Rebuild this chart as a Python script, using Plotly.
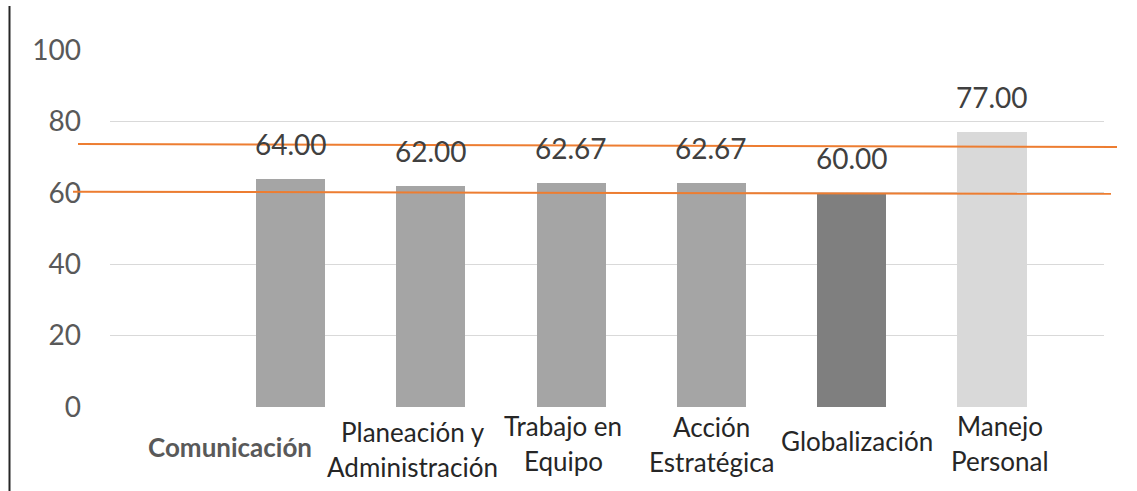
import plotly.graph_objects as go

# Competency scores
categories = ["Comunicación", "Planeación y Administración", "Trabajo en Equipo",
              "Acción Estratégica", "Globalización", "Manejo Personal"]
values = [64.00, 62.00, 62.67, 62.67, 60.00, 77.00]
bar_colors = ["#a5a5a5", "#a5a5a5", "#a5a5a5", "#a5a5a5", "#7f7f7f", "#d9d9d9"]
y_ticks = [0, 20, 40, 60, 80, 100]

# Two reference levels (slightly tilted lines): (left end, right end)
reference_lines = [(73.7, 72.8), (60.3, 59.7)]

# Axis label text, split into lines
label_lines = [["Comunicación"], ["Planeación y", "Administración"], ["Trabajo en", "Equipo"],
               ["Acción", "Estratégica"], ["Globalización"], ["Manejo", "Personal"]]

# --- layout geometry (pixels) ---
W, H = 1137, 491
ML, MR, MT, MB = 110, 33, 50, 84
PW, PH = W - ML - MR, H - MT - MB
UNIT = 140.3                     # px per category
FIRST_CENTER = 290.5             # px, centre of first bar
x_lo = 1 - (FIRST_CENTER - ML) / UNIT
x_hi = x_lo + PW / UNIT

def px_to_paper_x(px):
    return (px - ML) / PW

def px_to_paper_y(py):
    return (H - MB - py) / PH

x_pos = list(range(1, len(categories) + 1))

fig = go.Figure()
fig.add_trace(go.Bar(
    x=x_pos, y=values, width=0.492,
    marker=dict(color=bar_colors, line=dict(width=0)),
    hoverinfo="skip", showlegend=False,
))

FONT = "Lato"
annotations = []
# value labels above bars
for x, v in zip(x_pos, values):
    annotations.append(dict(
        x=x, y=v, xref="x", yref="y", text=f"{v:.2f}", showarrow=False,
        yanchor="middle", yshift=35,
        font=dict(family=FONT, size=28, color="#404040"),
    ))

# category labels
label_dx = [-61, -18, -8, 0, 5, 8]          # horizontal offset from bar centre
label_top = [447, 432, 426, 427, 441, 426]  # first-line centre (px)
LINE_GAP = 35
for i, (x, lines) in enumerate(zip(x_pos, label_lines)):
    for j, line in enumerate(lines):
        first = i == 0
        annotations.append(dict(
            x=x, y=px_to_paper_y(label_top[i] + j * LINE_GAP), xref="x", yref="paper",
            text=f"<b>{line}</b>" if first else line, showarrow=False,
            xanchor="center", yanchor="middle", xshift=label_dx[i],
            font=dict(family=FONT, size=26, color="#595959" if first else "#262626"),
        ))

shapes = []
# reference lines, extending a little past the plot area
ref_ends = [(78, 1117), (73, 1111)]
for (y_left, y_right), (px0, px1) in zip(reference_lines, ref_ends):
    shapes.append(dict(
        type="line", xref="paper", yref="y",
        x0=px_to_paper_x(px0), x1=px_to_paper_x(px1), y0=y_left, y1=y_right,
        line=dict(color="#ed7d31", width=2),
    ))
# left border rule
shapes.append(dict(
    type="line", xref="paper", yref="paper",
    x0=px_to_paper_x(9.5), x1=px_to_paper_x(9.5),
    y0=px_to_paper_y(H), y1=px_to_paper_y(6),
    line=dict(color="#262626", width=2),
))

fig.update_layout(
    width=W, height=H, autosize=False,
    margin=dict(l=ML, r=MR, t=MT, b=MB),
    paper_bgcolor="white", plot_bgcolor="white",
    bargap=0,
    xaxis=dict(range=[x_lo, x_hi], showticklabels=False, showgrid=False,
               zeroline=False, showline=False, ticks=""),
    yaxis=dict(range=[0, 100], tickvals=y_ticks, showgrid=True, gridcolor="#d9d9d9",
               gridwidth=1, zeroline=False, showline=False, ticks="",
               ticklabelstandoff=28,
               tickfont=dict(family=FONT, size=28, color="#595959")),
    annotations=annotations,
    shapes=shapes,
)

fig.write_html("out.html")
